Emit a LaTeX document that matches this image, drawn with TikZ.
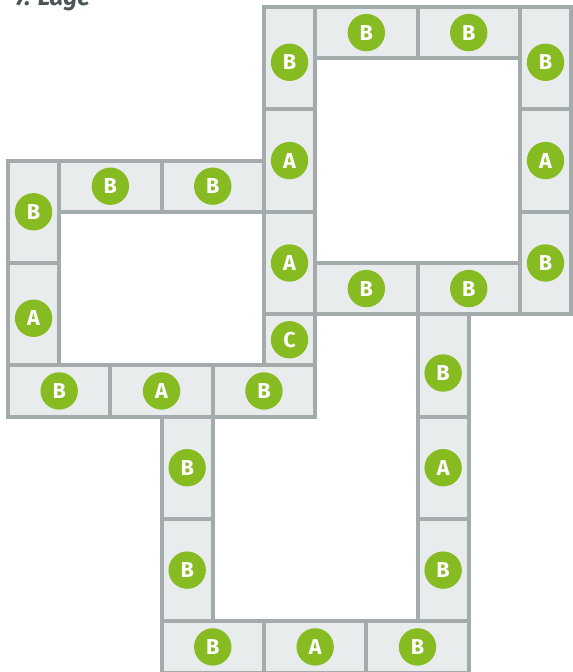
\documentclass[tikz,border=0pt]{standalone}
\usepackage{fontspec}
\setsansfont{Fira Sans}
\usetikzlibrary{positioning}

\definecolor{tileline}{HTML}{A3ABAC}
\definecolor{tilefill}{HTML}{E9ECED}
\definecolor{badgegreen}{HTML}{86BB22}
\definecolor{titlegray}{HTML}{4B5557}

\begin{document}
\begin{tikzpicture}[
    x=1cm, y=-1cm,
    font=\sffamily,
    % Tile styles
    tile/.style={
        rectangle, draw=tileline, line width=2.2pt, fill=tilefill,
        inner sep=0pt, outer sep=0pt
    },
    vtile/.style={tile, minimum width=1cm, minimum height=2cm},
    htile/.style={tile, minimum width=2cm, minimum height=1cm},
    sqtile/.style={tile, minimum size=1cm},
    % Letter badge
    badge/.style={
        circle, fill=badgegreen, minimum size=0.73cm, inner sep=0pt,
        text=white, font=\fontsize{12}{14}\sffamily\bfseries
    }
]
\useasboundingbox (-0.156,-0.137) rectangle (11.035,12.99);

% --- Title (cut off at the top) ---
\node[anchor=base west, inner sep=0pt, text=titlegray,
      font=\fontsize{13.5}{15}\sffamily\bfseries\itshape] (title) at (0.14,-0.02) {7. Lage};

% ==========================================
% UPPER RIGHT RING
% ==========================================
\node[vtile] (neL1) at (5.5,1) {};  \node[badge] at (5.5,1.08) {B};
\node[vtile] (neL2) at (5.5,3) {};  \node[badge] at (neL2) {A};
\node[vtile] (neL3) at (5.5,5) {};  \node[badge] at (neL3) {A};
\node[vtile] (neR1) at (10.5,1) {}; \node[badge] at (10.5,1.08) {B};
\node[vtile] (neR2) at (10.5,3) {}; \node[badge] at (neR2) {A};
\node[vtile] (neR3) at (10.5,5) {}; \node[badge] at (neR3) {B};
\node[htile] (neT1) at (7,0.5) {};  \node[badge] at (neT1) {B};
\node[htile] (neT2) at (9,0.5) {};  \node[badge] at (neT2) {B};
\node[htile] (neB1) at (7,5.5) {};  \node[badge] at (neB1) {B};
\node[htile] (neB2) at (9,5.5) {};  \node[badge] at (neB2) {B};

% ==========================================
% LEFT RING
% ==========================================
\node[vtile] (wL1) at (0.5,4) {};   \node[badge] at (wL1) {B};
\node[vtile] (wL2) at (0.5,6) {};   \node[badge] at (0.5,6.08) {A};
\node[htile] (wT1) at (2,3.5) {};   \node[badge] at (wT1) {B};
\node[htile] (wT2) at (4,3.5) {};   \node[badge] at (wT2) {B};
\node[sqtile] (wC) at (5.5,6.5) {}; \node[badge] at (wC) {C};
\node[htile] (wB1) at (1,7.5) {};   \node[badge] at (wB1) {B};
\node[htile] (wB2) at (3,7.5) {};   \node[badge] at (wB2) {A};
\node[htile] (wB3) at (5,7.5) {};   \node[badge] at (wB3) {B};

% ==========================================
% LOWER RING
% ==========================================
\node[vtile] (sL1) at (3.5,9) {};   \node[badge] at (sL1) {B};
\node[vtile] (sL2) at (3.5,11) {};  \node[badge] at (sL2) {B};
\node[vtile] (sR1) at (8.5,7) {};   \node[badge] at (8.5,7.15) {B};
\node[vtile] (sR2) at (8.5,9) {};   \node[badge] at (sR2) {A};
\node[vtile] (sR3) at (8.5,11) {};  \node[badge] at (sR3) {B};
\node[htile] (sB1) at (4,12.5) {};  \node[badge] at (sB1) {B};
\node[htile] (sB2) at (6,12.5) {};  \node[badge] at (sB2) {A};
\node[htile] (sB3) at (8,12.5) {};  \node[badge] at (sB3) {B};

\end{tikzpicture}
\end{document}
